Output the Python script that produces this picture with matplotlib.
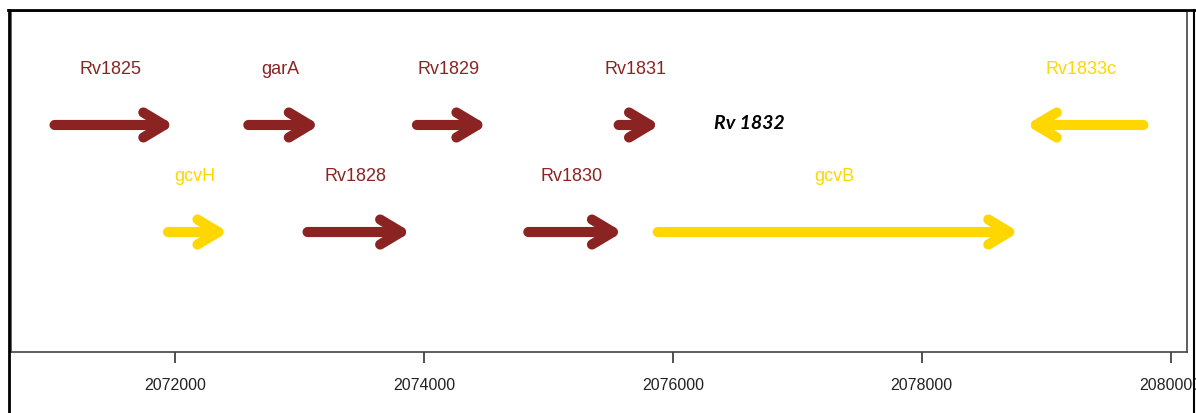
import matplotlib
matplotlib.use('Agg')
import matplotlib.pyplot as plt
from matplotlib.patches import FancyArrowPatch
from matplotlib.lines import Line2D

# gene table (start = tail, end = arrow tip)
genes = ['Rv1825', 'garA', 'Rv1829', 'Rv1831', 'Rv1833c',
         'gcvH', 'Rv1828', 'Rv1830', 'gcvB']
starts = [2071032, 2072589, 2073944, 2075565, 2079782,
          2071944, 2073065, 2074839, 2075879]
ends = [2071992, 2073161, 2074508, 2075895, 2078839,
        2072427, 2073895, 2075597, 2078782]
track = [2, 2, 2, 2, 2, 1, 1, 1, 1]
group = ['a', 'a', 'a', 'a', 'b', 'b', 'a', 'a', 'b']
colors = {'a': '#8b2323', 'b': '#ffd700'}
xticks = [2072000, 2074000, 2076000, 2078000, 2080000]
note_text = 'Rv 1832'
note_pos = (2076330, 1.97)

W, H = 1196, 414
fig = plt.figure(figsize=(W / 100, H / 100), dpi=100)
ax = fig.add_axes([11 / W, (H - 353) / H, (1187 - 11) / W, (353 - 12) / H])

lo, hi = min(starts + ends), max(starts + ends)
pad = 0.04 * (hi - lo)
ax.set_xlim(lo - pad, hi + pad)
ax.set_ylim(-0.121, 3.065)

for g, s, e, t, grp in zip(genes, starts, ends, track, group):
    c = colors[grp]
    arr = FancyArrowPatch((s, t), (e, t),
                          arrowstyle='->,head_length=15,head_width=9',
                          mutation_scale=1, lw=7.3, color=c,
                          capstyle='round', joinstyle='round',
                          shrinkA=0, shrinkB=0)
    ax.add_patch(arr)
    # labels sit a touch left of the gene centre, as in the original
    ax.text((s + e) / 2 - 30, t + 0.486, g, color=c, ha='center',
            va='baseline', fontsize=13, family='Liberation Sans')

ax.text(note_pos[0], note_pos[1], note_text, ha='left', va='baseline',
        fontsize=14, family='Lato', fontweight='bold', fontstyle='italic',
        color='black')

ax.set_xticks(xticks)
ax.set_xticklabels([str(v) for v in xticks], fontsize=11.5,
                   family='Liberation Sans', color='#222222')
ax.set_yticks([])
ax.tick_params(axis='x', length=8, width=1.2, pad=10, color='#333333')
for sp in ax.spines.values():
    sp.set_color('#444444')
    sp.set_linewidth(1.2)

# outer frame of the screenshot
fig.add_artist(Line2D([8.5 / W, 8.5 / W], [0, (H - 11) / H], color='black',
                      lw=2, transform=fig.transFigure))
fig.add_artist(Line2D([8 / W, 1], [(H - 11) / H, (H - 11) / H], color='black',
                      lw=2, transform=fig.transFigure))
fig.add_artist(Line2D([1194 / W, 1194 / W], [0, (H - 11) / H], color='black',
                      lw=1.5, transform=fig.transFigure))

fig.savefig('out.png', dpi=100)
plt.close()
